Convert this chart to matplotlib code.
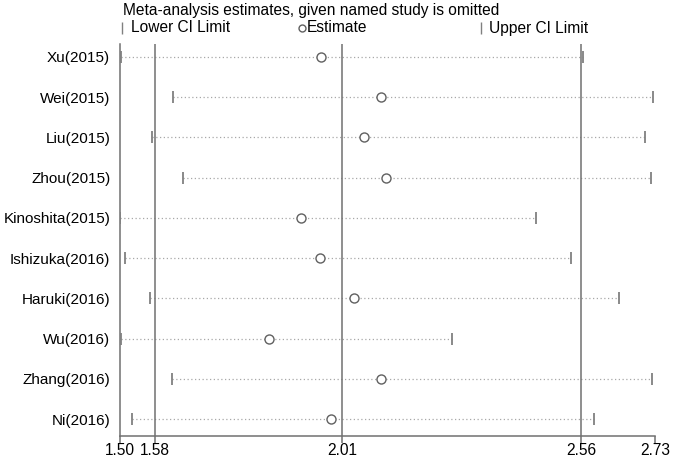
import matplotlib
matplotlib.use("Agg")
import matplotlib.pyplot as plt
from matplotlib.lines import Line2D

plt.rcParams['font.family'] = ['Liberation Sans', 'DejaVu Sans']

studies = ["Xu(2015)", "Wei(2015)", "Liu(2015)", "Zhou(2015)", "Kinoshita(2015)",
           "Ishizuka(2016)", "Haruki(2016)", "Wu(2016)", "Zhang(2016)", "Ni(2016)"]
lower = [1.502, 1.622, 1.573, 1.645, 1.500, 1.511, 1.569, 1.502, 1.619, 1.528]
estimate = [1.963, 2.101, 2.060, 2.112, 1.917, 1.959, 2.037, 1.842, 2.099, 1.986]
upper = [2.564, 2.725, 2.706, 2.720, 2.456, 2.537, 2.647, 2.264, 2.722, 2.589]
xticks = [1.50, 1.58, 2.01, 2.56, 2.73]
ref_lines = [1.58, 2.01, 2.56]

FS = 11.2
line_col = "#707070"
fig = plt.figure(figsize=(6.75, 4.57), dpi=100)
ax = fig.add_axes([120/675, 1-436/457, 535/675, (436-44)/457])

ys = list(range(len(studies)))
for y, lo, est, up in zip(ys, lower, estimate, upper):
    ax.plot([lo, up], [y, y], linestyle=(0, (1, 2)), color="#a8a8a8", lw=0.9, zorder=1)
ax.plot(lower, ys, linestyle="none", marker="|", ms=8, mew=1.3, color="#808080", zorder=3)
ax.plot(upper, ys, linestyle="none", marker="|", ms=8, mew=1.3, color="#808080", zorder=3)
ax.plot(estimate, ys, linestyle="none", marker="o", ms=6.5, mfc="white", mec="#606060", mew=1.0, zorder=4)
for xv in ref_lines:
    ax.axvline(xv, color=line_col, lw=1.1, zorder=2)

ax.set_xlim(1.50, 2.73)
ax.set_ylim(9.42, -0.323)
ax.set_yticks(ys)
ax.set_yticklabels(studies, fontsize=11.0)
ax.set_xticks(xticks)
ax.set_xticklabels([f"{v:.2f}" for v in xticks], fontsize=FS)
ax.tick_params(axis="y", length=0, pad=7)
ax.tick_params(axis="x", length=5, width=1.1, color=line_col, pad=0)
for s in ["top", "right"]:
    ax.spines[s].set_visible(False)
for s in ["left", "bottom"]:
    ax.spines[s].set_color(line_col)
    ax.spines[s].set_linewidth(1.1)

# title and legend
fig.text(123/675, 1-10/457, "Meta-analysis estimates, given named study is omitted",
         fontsize=FS, va="center", ha="left")
ly = 1-28/457
fig.add_artist(Line2D([122/675], [ly], marker="|", ms=8, mew=1.0, color="#808080", transform=fig.transFigure))
fig.text(131/675, ly, "Lower CI Limit", fontsize=FS, va="center", ha="left")
fig.add_artist(Line2D([302/675], [ly], marker="o", ms=5, mfc="white", mec="#606060", mew=1.0, transform=fig.transFigure))
fig.text(307/675, ly, "Estimate", fontsize=FS, va="center", ha="left")
fig.add_artist(Line2D([481/675], [ly], marker="|", ms=8, mew=1.0, color="#808080", transform=fig.transFigure))
fig.text(489/675, ly, "Upper CI Limit", fontsize=FS, va="center", ha="left")

fig.savefig("out.png", dpi=100)
